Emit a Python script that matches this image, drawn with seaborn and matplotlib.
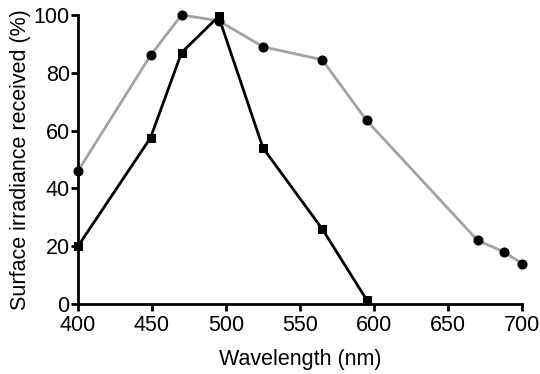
import matplotlib
matplotlib.use("Agg")
import matplotlib.pyplot as plt
import seaborn as sns
import pandas as pd

gray_x = [400, 449, 470, 495, 525, 565, 595, 670, 688, 700]
gray_y = [46, 86, 100, 98, 89, 84.5, 63.5, 22, 18, 14]
black_x = [400, 449, 470, 495, 525, 565, 595]
black_y = [20, 57.5, 87, 99.5, 54, 26, 1.5]
x_ticks = [400, 450, 500, 550, 600, 650, 700]
y_ticks = [0, 20, 40, 60, 80, 100]

sns.set_style("ticks")
plt.rcParams['font.family'] = ['Liberation Sans', 'DejaVu Sans']
plt.rcParams['text.color'] = 'black'
plt.rcParams['axes.labelcolor'] = 'black'

fig = plt.figure(figsize=(5.4, 3.74), dpi=100)
ax = fig.add_axes([0.1444, 0.187, 0.8223, 0.773])

dg = pd.DataFrame({"x": gray_x, "y": gray_y})
db = pd.DataFrame({"x": black_x, "y": black_y})

sns.lineplot(data=dg, x="x", y="y", ax=ax, color="#a3a3a3", linewidth=2.0,
             marker="o", markersize=6.5, markerfacecolor="black",
             markeredgecolor="black", clip_on=False, zorder=2)
sns.lineplot(data=db, x="x", y="y", ax=ax, color="black", linewidth=2.0,
             marker="s", markersize=5.5, markerfacecolor="black",
             markeredgecolor="black", clip_on=False, zorder=3)

ax.set_xlim(400, 700)
ax.set_ylim(0, 100)
ax.set_xticks(x_ticks)
ax.set_yticks(y_ticks)
ax.tick_params(axis="both", labelsize=15.5, width=2, length=5, color="black",
               labelcolor="black")
ax.tick_params(axis="x", pad=3)
ax.tick_params(axis="y", pad=1)
for s in ["left", "bottom"]:
    ax.spines[s].set_linewidth(2)
    ax.spines[s].set_color("black")
sns.despine(ax=ax)
ax.set_xlabel("Wavelength (nm)", fontsize=15.5, labelpad=9, color="black")
ax.set_ylabel("Surface irradiance received (%)", fontsize=15.5, labelpad=2,
              color="black")

fig.savefig("out.png", dpi=100)
